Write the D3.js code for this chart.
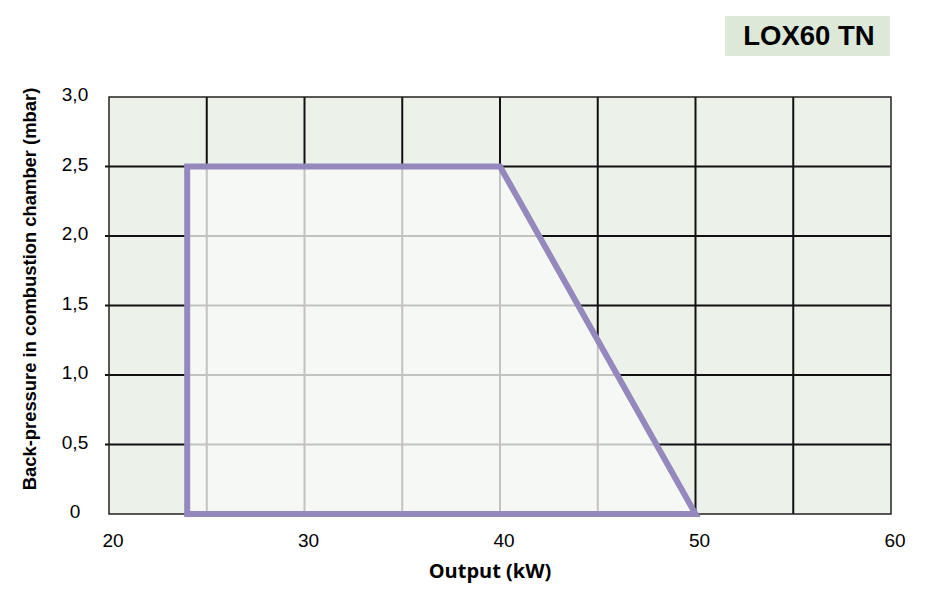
<!DOCTYPE html>
<html>
<head>
<meta charset="utf-8">
<script src="https://cdn.jsdelivr.net/npm/d3@7"></script>
<style>
  body { margin: 0; background: #fff; }
  svg { display: block; }
</style>
</head>
<body>
<script>
(function () {
    var width = 928;
    var height = 590;

    // chart data
    var title = "LOX60 TN";
    var xTicks = [20, 30, 40, 50, 60];
    var yTicks = [0, 0.5, 1.0, 1.5, 2.0, 2.5, 3.0];
    var xGrid = [25, 30, 35, 40, 45, 50, 55];
    var rangeOutput = [24, 24, 40, 50];
    var rangePressure = [0, 2.5, 2.5, 0];

    var left = 109, right = 891, top = 97, bottom = 514;

    var svg = d3.select("body").append("svg")
        .attr("width", width)
        .attr("height", height);

    var x = d3.scaleLinear().domain([20, 60]).range([left, right]);
    var y = d3.scaleLinear().domain([0, 3]).range([bottom, top]);

    var pts = rangeOutput.map(function (d, i) { return [x(d), y(rangePressure[i])]; });

    // background
    svg.append("rect")
        .attr("x", left).attr("y", top)
        .attr("width", right - left).attr("height", bottom - top)
        .attr("fill", "#ecf1ea");

    // black grid
    var grid = svg.append("g").attr("stroke", "#111").attr("stroke-width", 2);
    grid.selectAll("line.v").data(xGrid).enter().append("line")
        .attr("x1", function (d) { return x(d); })
        .attr("x2", function (d) { return x(d); })
        .attr("y1", top).attr("y2", bottom);
    grid.selectAll("line.h").data(yTicks.filter(function (d) { return d > 0 && d < 3; })).enter().append("line")
        .attr("x1", left - 4).attr("x2", right)
        .attr("y1", function (d) { return y(d); })
        .attr("y2", function (d) { return y(d); });

    // operating range fill
    svg.append("clipPath").attr("id", "area")
        .append("polygon").attr("points", pts.join(" "));
    svg.append("polygon")
        .attr("points", pts.join(" "))
        .attr("fill", "#f6f8f5");

    // grey grid inside the range
    var inner = svg.append("g").attr("clip-path", "url(#area)")
        .attr("stroke", "#c2c2c0").attr("stroke-width", 2);
    inner.selectAll("line.v").data(xGrid).enter().append("line")
        .attr("x1", function (d) { return x(d); })
        .attr("x2", function (d) { return x(d); })
        .attr("y1", top).attr("y2", bottom);
    inner.selectAll("line.h").data(yTicks.filter(function (d) { return d > 0 && d < 3; })).enter().append("line")
        .attr("x1", left).attr("x2", right)
        .attr("y1", function (d) { return y(d); })
        .attr("y2", function (d) { return y(d); });

    // border
    svg.append("rect")
        .attr("x", left).attr("y", top)
        .attr("width", right - left).attr("height", bottom - top)
        .attr("fill", "none")
        .attr("stroke", "#222").attr("stroke-width", 1.5);

    // range outline
    svg.append("polygon")
        .attr("points", pts.join(" "))
        .attr("fill", "none")
        .attr("stroke", "#9488bc")
        .attr("stroke-width", 6)
        .attr("stroke-linejoin", "miter");

    // tick labels
    var font = "'Liberation Sans', Arial, sans-serif";
    svg.append("g").selectAll("text").data(yTicks).enter().append("text")
        .attr("x", 75)
        .attr("y", function (d) { return y(d) + 4; })
        .attr("text-anchor", "middle")
        .style("font-family", font)
        .style("font-size", "19px")
        .text(function (d) { return d === 0 ? "0" : d3.format(".1f")(d).replace(".", ","); });

    svg.append("g").selectAll("text").data(xTicks).enter().append("text")
        .attr("x", function (d) { return x(d) + 4; })
        .attr("y", 547)
        .attr("text-anchor", "middle")
        .style("font-family", font)
        .style("font-size", "19px")
        .text(function (d) { return d; });

    // axis titles
    svg.append("text")
        .attr("x", 490).attr("y", 578)
        .attr("text-anchor", "middle")
        .style("font-family", "'Open Sans', sans-serif")
        .style("font-weight", "bold")
        .style("font-size", "20px")
        .text("Output (kW)");

    svg.append("text")
        .attr("transform", "translate(36,289) rotate(-90)")
        .attr("text-anchor", "middle")
        .style("font-family", font)
        .style("font-weight", "bold")
        .style("font-size", "18.4px")
        .text("Back-pressure in combustion chamber (mbar)");

    // title box
    svg.append("rect")
        .attr("x", 725).attr("y", 16)
        .attr("width", 165).attr("height", 40)
        .attr("fill", "#dce8d8");
    svg.append("text")
        .attr("x", 809).attr("y", 45)
        .attr("text-anchor", "middle")
        .style("font-family", font)
        .style("font-weight", "bold")
        .style("font-size", "27.5px")
        .text(title);
})();
</script>
</body>
</html>
